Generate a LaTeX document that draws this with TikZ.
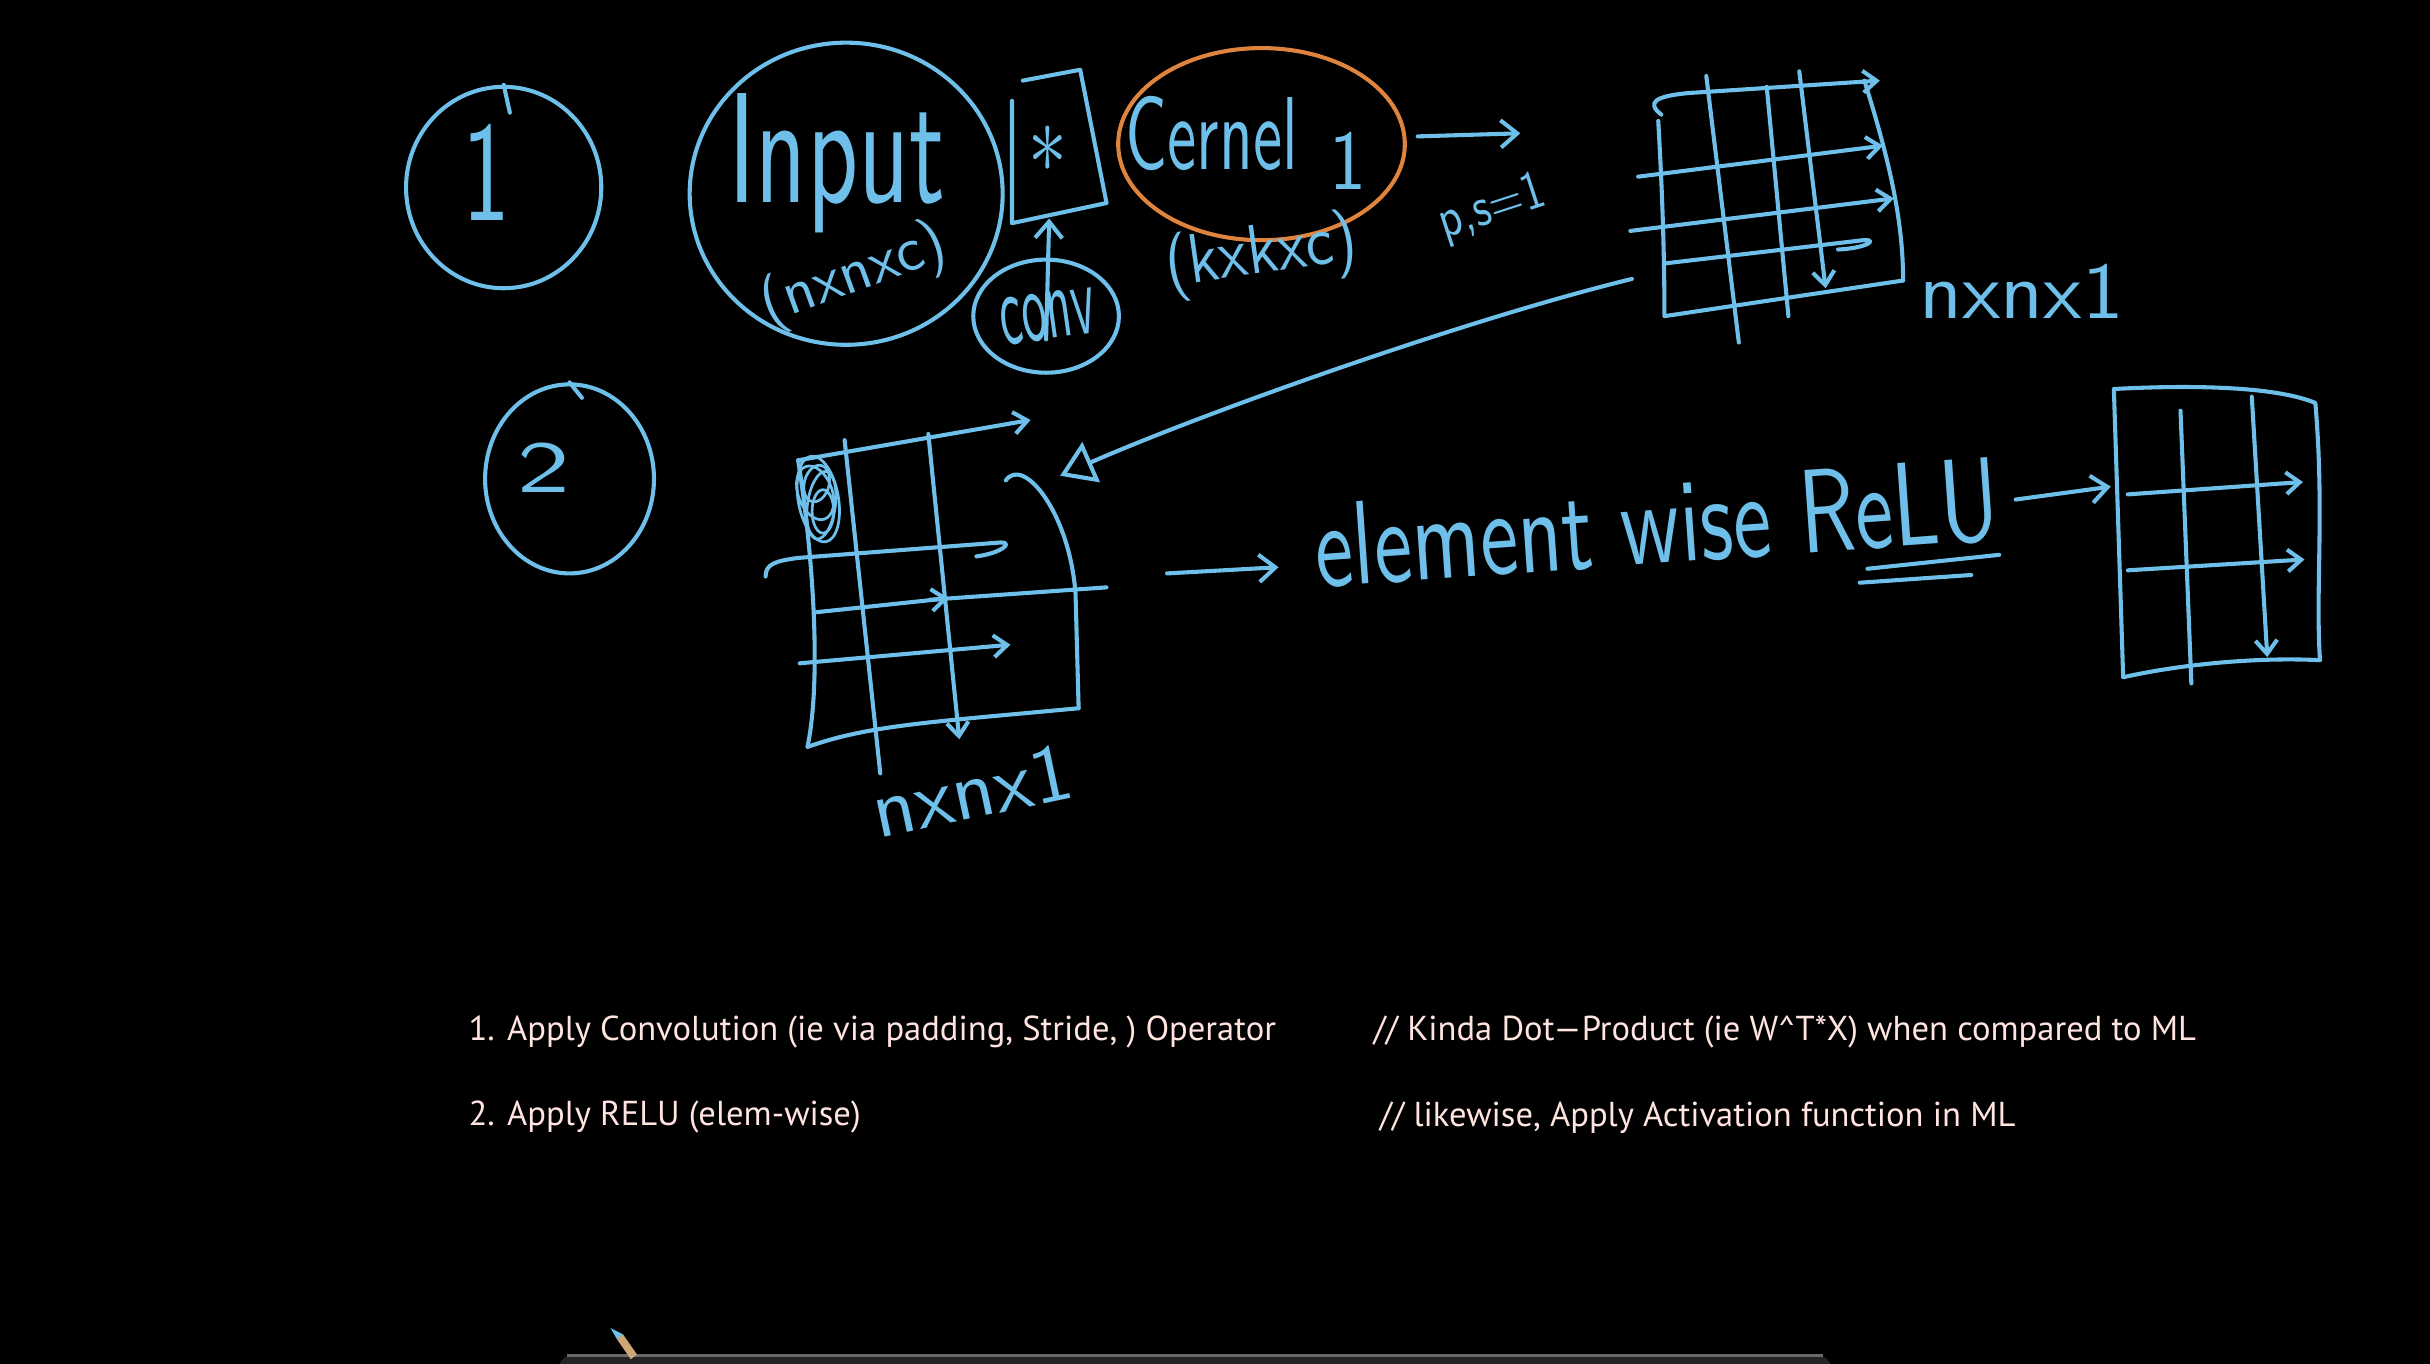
\documentclass[tikz,border=0pt]{standalone}
\usepackage{fontspec}
\usepackage{graphicx}
\usepackage{tikz}
\usetikzlibrary{arrows.meta,positioning,shapes.geometric}
\newfontfamily\notefont{PT Sans}
\definecolor{penblue}   {RGB}{110,192,234}
\definecolor{penorange} {RGB}{222,132, 62}
\definecolor{notepink}  {RGB}{255,228,224}
\definecolor{barfill}   {RGB}{ 36, 36, 38}
\definecolor{baredge}   {RGB}{105,105,108}
\definecolor{pencilwood}{RGB}{205,168,118}
\newcommand{\scrawl}[3]{\resizebox*{#1}{#2}{#3}}
\tikzset{
  pen/.style={draw=penblue,line width=1.5pt,line cap=round,line join=round},
  barb/.style={pen,-{Straight Barb[length=6pt,width=10pt]}},
  trav/.style={pen,-{Straight Barb[length=5pt,width=8pt]}},
  ring/.style={pen,ellipse,inner sep=0pt},
  hand/.style={text=penblue,font=\sffamily,inner sep=0pt},
  note/.style={text=notepink,font=\notefont\fontsize{12.7}{15}\selectfont,
               anchor=west,inner sep=0pt},
}

\begin{document}
\begin{tikzpicture}[x=0.02cm,y=-0.02cm]
  \useasboundingbox (0,0) rectangle (1568,880);
  \fill[black] (0,0) rectangle (1568,880);

  % step 1
  \node[ring,minimum width=2.52cm,minimum height=2.6cm] (one) at (325,121) {};
  \draw[pen] (one.north) -- ++(4,18);
  \node[hand] (onetxt) at (314,111) {\scrawl{0.62cm}{1.24cm}{1}};

  \node[ring,minimum width=4.04cm,minimum height=3.9cm] (inp) at (546,125) {};
  \node[hand] (inptxt) at (540,105) {\scrawl{2.8cm}{1.8cm}{Input}};
  \node[hand,rotate=20] (inpdim) at (551,178) {\scrawl{2.5cm}{0.8cm}{(nxnxc)}};

  \draw[pen] (660,52) -- (697,45) -- (714,131) -- (653,144) -- (653,65);
  \node[hand] (star) at (676,96) {\scrawl{0.5cm}{0.6cm}{$\ast$}};
  \coordinate (boxfoot) at (677,141);

  \node[ring,minimum width=1.88cm,minimum height=1.46cm] (conv) at (675,204) {};
  \node[hand,rotate=8] (convtxt) at (676,204) {\scrawl{1.24cm}{0.62cm}{conv}};
  \draw[barb] ([yshift=-0.3cm]conv.center) -- (boxfoot);

  \node[ring,draw=penorange,minimum width=3.7cm,minimum height=2.48cm] (kern) at (814,93) {};
  \node[hand] (kerntxt) at (782,86) {\scrawl{2.22cm}{0.96cm}{Cernel}};
  \node[hand] (kernone) at (870,104) {\scrawl{0.48cm}{0.74cm}{1}};
  \node[hand,rotate=8] (kerndim) at (814,165) {\scrawl{2.5cm}{0.9cm}{(kxkxc)}};

  \coordinate (psend) at (981,86);
  \draw[barb] ([xshift=0.14cm,yshift=0.1cm]kern.east) -- (psend);
  \node[hand,rotate=18] (pslbl) at (963,135) {\scrawl{1.4cm}{0.62cm}{p,s=1}};

  % first feature map
  \draw[trav] (1072,74) .. controls (1062,66) and (1068,62) .. (1090,60) -- (1213,52);
  \draw[trav] (1057,114) -- (1215,94);
  \draw[trav] (1052,149) -- (1222,128);
  \draw[pen] (1074,170) -- (1202,155) .. controls (1212,154) and (1206,160) .. (1186,161);
  \draw[pen] (1070,78) .. controls (1073,130) and (1074,170) .. (1074,204) -- (1228,181);
  \draw[pen] (1203,52) .. controls (1218,100) and (1228,140) .. (1228,181);
  \draw[pen] (1101,49) -- (1122,221);
  \draw[pen] (1140,56) -- (1154,204);
  \draw[trav] (1161,46) -- (1178,186);
  \coordinate (g1se) at (1228,181);
  \coordinate (g1tail) at (1053,180);
  \node[hand,right=0.2cm of g1se,yshift=-0.14cm] (g1dim) {\scrawl{2.64cm}{0.7cm}{nxnx1}};

  % step 2
  \node[ring,minimum width=2.18cm,minimum height=2.44cm] (two) at (367.5,309) {};
  \draw[pen] (two.north) -- ++(8,10);
  \node[hand] (twotxt) at (351,302) {\scrawl{0.68cm}{0.64cm}{2}};

  \draw[trav] (515,297) -- (665,271);
  \draw[pen] (515,297) .. controls (525,360) and (530,440) .. (521,482)
             .. controls (560,468) and (600,466) .. (696,457);
  \draw[pen] (649,310) .. controls (660,294) and (690,330) .. (694,383) -- (696,457);
  \draw[pen] (545,284) -- (568,499);
  \draw[trav] (599,280) -- (619,477);
  \draw[pen] (494,372) .. controls (494,364) and (500,362) .. (515,360) -- (646,350)
             .. controls (654,350) and (646,357) .. (630,359);
  \draw[trav] (527,395) -- (612,386);
  \draw[pen] (600,387) -- (714,379);
  \draw[trav] (516,428) -- (652,416);
  \foreach \cx/\cy/\rx/\ry/\t in {528/322/13/28/10,530/326/9/22/-8,526/318/11/18/20,
                                  531/330/7/14/0,527/312/8/12/-15}
    \draw[pen,line width=1pt,rotate around={\t:(\cx,\cy)}] (\cx,\cy) ellipse [x radius=\rx,y radius=\ry];
  \coordinate (g2head) at (684,307);
  \coordinate (g2out) at (753,370);
  \node[hand,rotate=12] (g2dim) at (627,510) {\scrawl{2.62cm}{0.72cm}{nxnx1}};

  \draw[pen,-{Triangle[open,length=0.44cm,width=0.56cm]}] (g1tail)
       .. controls (950,205) and (780,265) .. (g2head);

  \node[hand,rotate=4,anchor=south west] (relu) at (850,381) {\scrawl{8.84cm}{1.1cm}{element wise ReLU}};
  \draw[pen] (1205,367) -- (1290,358);
  \draw[pen] (1200,376) -- (1272,371);
  \draw[barb] (g2out) -- ([xshift=-0.5cm,yshift=0.3cm]relu.south west);

  % after relu
  \coordinate (g3in) at (1362,314);
  \draw[barb] ([xshift=0.22cm]relu.east) -- (g3in);
  \draw[pen] (1364,251) .. controls (1420,248) and (1470,250) .. (1494,260)
             .. controls (1500,330) and (1494,380) .. (1497,426)
             .. controls (1460,424) and (1410,428) .. (1370,437) -- cycle;
  \draw[pen] (1407,265) -- (1414,441);
  \draw[trav] (1453,256) -- (1463,424);
  \draw[trav] (1373,319) -- (1486,311);
  \draw[trav] (1373,368) -- (1487,361);

  \node[note] (step1) at (302,666) {1. Apply Convolution (ie via padding, Stride, ) Operator};
  \node[note] (cmt1) at (886,666) {// Kinda Dot—Product (ie W\textasciicircum T*X) when compared to ML};
  \node[note] (step2) at (302,721) {2. Apply RELU (elem-wise)};
  \node[note] (cmt2) at (890,721) {// likewise, Apply Activation function in ML};

  \fill[barfill,rounded corners=6pt] (360,874) rectangle (1182,900);
  \draw[baredge,line width=1pt] (366,874.5) -- (1176,874.5);
  \fill[pencilwood] (398,864) -- (402,861) -- (411,874) -- (407,877) -- cycle;
  \fill[penblue] (394,857) -- (398,864) -- (402,861) -- cycle;
\end{tikzpicture}
\end{document}
